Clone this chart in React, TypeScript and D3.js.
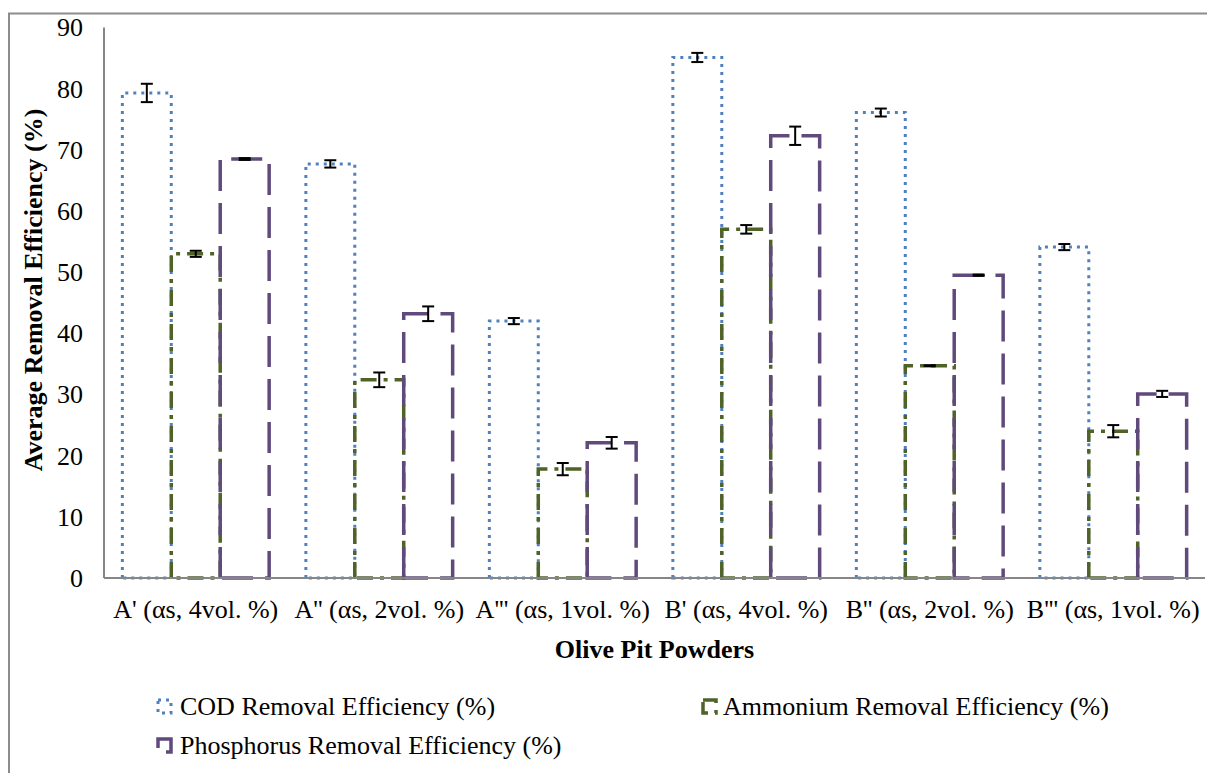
import React from "react";
import * as d3 from "d3";

const categories = [
  "A' (αs, 4vol. %)",
  "A'' (αs, 2vol. %)",
  "A''' (αs, 1vol. %)",
  "B' (αs, 4vol. %)",
  "B'' (αs, 2vol. %)",
  "B''' (αs, 1vol. %)",
];
const seriesNames = [
  "COD Removal Efficiency (%)",
  "Ammonium Removal Efficiency (%)",
  "Phosphorus Removal Efficiency (%)",
];
const codValues = [79.3, 67.7, 42.0, 85.1, 76.1, 54.1];
const codErrors = [1.5, 0.6, 0.5, 0.75, 0.65, 0.5];
const ammoniumValues = [53.0, 32.4, 17.8, 57.0, 34.7, 24.0];
const ammoniumErrors = [0.5, 1.2, 1.0, 0.7, 0.1, 1.0];
const phosphorusValues = [68.5, 43.2, 22.1, 72.3, 49.5, 30.1];
const phosphorusErrors = [0.15, 1.2, 0.95, 1.5, 0.1, 0.5];
const yTicks = [0, 10, 20, 30, 40, 50, 60, 70, 80, 90];

const FONT = "'Liberation Serif', 'Times New Roman', serif";

const styles = [
  { color: "#4F81BD", dash: "3 5", width: 3 },
  { color: "#4F6228", dash: "16 7 4 7", width: 3.5 },
  { color: "#604A7B", dash: "31 12", width: 3.5 },
];

export default function App() {
  const W = 1207;
  const H = 773;
  const left = 104;
  const right = 1205;
  const top = 27.5;
  const bottom = 578;

  const y = d3.scaleLinear().domain([0, 90]).range([bottom, top]);
  const x0 = d3
    .scaleBand<string>()
    .domain(categories)
    .range([left, right])
    .paddingInner(0.2)
    .paddingOuter(0.1);
  const x1 = d3
    .scaleBand<number>()
    .domain([0, 1, 2])
    .range([0, x0.bandwidth()])
    .padding(0);

  const valueSets = [codValues, ammoniumValues, phosphorusValues];
  const errorSets = [codErrors, ammoniumErrors, phosphorusErrors];

  const barPath = (xa: number, xb: number, yt: number) => {
    const p = d3.path();
    p.moveTo(xa, bottom);
    p.lineTo(xa, yt);
    p.lineTo(xb, yt);
    p.lineTo(xb, bottom);
    p.closePath();
    return p.toString();
  };

  return (
    <svg
      width={W}
      height={H}
      style={{ position: "absolute", left: 0, top: 0, background: "#fff" }}
      fontFamily={FONT}
    >
      <rect x={9} y={13.5} width={1400} height={1000} fill="#fff" stroke="#8c8c8c" strokeWidth={2} />

      {/* y tick labels */}
      {yTicks.map((t) => (
        <text key={t} x={83} y={y(t)} dy="0.34em" textAnchor="end" fontSize={26} fill="#000">
          {t}
        </text>
      ))}

      {/* axes */}
      <line x1={left} x2={left} y1={top} y2={bottom} stroke="#868686" strokeWidth={2} />

      {/* bars */}
      {[0, 1, 2].map((s) =>
        categories.map((c, i) => {
          const xa = (x0(c) as number) + (x1(s) as number);
          const xb = xa + x1.bandwidth();
          return (
            <path
              key={`b${s}-${i}`}
              d={barPath(xa, xb, y(valueSets[s][i]))}
              fill="none"
              stroke={styles[s].color}
              strokeWidth={styles[s].width}
              strokeDasharray={styles[s].dash}
            />
          );
        })
      )}

      <line x1={left} x2={right} y1={bottom} y2={bottom} stroke="#868686" strokeWidth={2} />

      {/* error bars */}
      {[0, 1, 2].map((s) =>
        categories.map((c, i) => {
          const cx = (x0(c) as number) + (x1(s) as number) + x1.bandwidth() / 2;
          const v = valueSets[s][i];
          const e = errorSets[s][i];
          const yt = y(v + e);
          const yb = y(v - e);
          return (
            <g key={`e${s}-${i}`} stroke="#000" strokeWidth={2}>
              <line x1={cx} x2={cx} y1={yt} y2={yb} />
              <line x1={cx - 6} x2={cx + 6} y1={yt} y2={yt} />
              <line x1={cx - 6} x2={cx + 6} y1={yb} y2={yb} />
            </g>
          );
        })
      )}

      {/* category labels */}
      {categories.map((c) => (
        <text
          key={c}
          x={(x0(c) as number) + x0.bandwidth() / 2}
          y={618}
          textAnchor="middle"
          fontSize={26}
          fill="#000"
        >
          {c}
        </text>
      ))}

      {/* axis titles */}
      <text x={(left + right) / 2} y={658} textAnchor="middle" fontSize={26} fontWeight="bold" fill="#000">
        Olive Pit Powders
      </text>
      <text
        transform={`translate(33, 290) rotate(-90)`}
        dy="0.35em"
        textAnchor="middle"
        fontSize={26}
        fontWeight="bold"
        fill="#000"
      >
        Average Removal Efficiency (%)
      </text>

      {/* legend */}
      {[
        { s: 0, mx: 158, my: 700, tx: 180, ty: 715 },
        { s: 1, mx: 703, my: 700, tx: 723, ty: 715 },
        { s: 2, mx: 158, my: 739, tx: 180, ty: 754 },
      ].map((l) => (
        <g key={`l${l.s}`}>
          <rect
            x={l.mx}
            y={l.my}
            width={13}
            height={13}
            fill="none"
            stroke={styles[l.s].color}
            strokeWidth={styles[l.s].width}
            strokeDasharray={styles[l.s].dash}
          />
          <text x={l.tx} y={l.ty} fontSize={26} fill="#000">
            {seriesNames[l.s]}
          </text>
        </g>
      ))}
    </svg>
  );
}
